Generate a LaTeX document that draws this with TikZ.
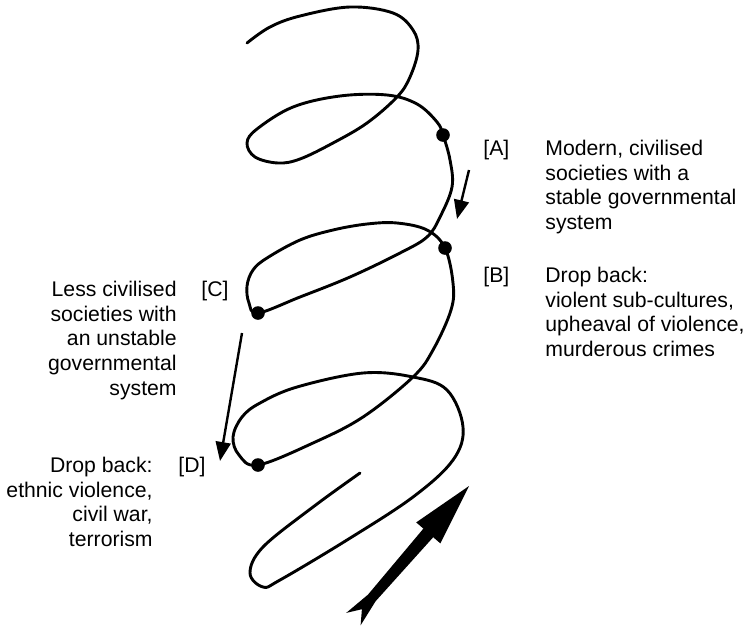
\documentclass[tikz,border=0pt]{standalone}
\usepackage{fontspec}
\setmainfont{Liberation Sans}
\usetikzlibrary{arrows.meta}
\tikzset{
  spiral/.style={line width=1.45pt, line cap=round, line join=round},
  spot/.style={circle, fill, inner sep=0pt, minimum size=6.8pt},
  tag/.style={anchor=base west, inner sep=0pt, font=\fontsize{10.6}{12.3}\selectfont},
  note/.style={inner sep=0pt, font=\fontsize{10.6}{12.3}\selectfont},
  drop/.style={line width=1.2pt, -{Triangle[length=9.5pt,width=7.5pt]}},
}
\begin{document}
\begin{tikzpicture}[x=0.5pt,y=-0.5pt]
    \useasboundingbox (0,0) rectangle (747,627);
    \draw[spiral] plot[smooth, tension=0.6] coordinates {
        (247,43) (270,27) (300,16) (350,7) (393,13) (413,30) (418,50) (410,77)
        (397,97) (367,123) (333,143) (300,159) (278,163) (255,157) (247,143)
        (257,129) (293,107) (340,96) (387,95) (417,104) (437,122) (443,135)
        (450,160) (452,187) (440,217) (427,237) (400,253) (350,277) (300,297)
        (258,313) (249,303) (247,286) (253,270) (267,258) (300,240) (333,230)
        (367,224) (397,223) (427,230) (445,248) (453,283) (451,310) (433,350)
        (413,377) (363,417) (313,443) (258,465) (239,455) (233,437) (242,417)
        (260,403) (297,387) (363,373) (413,377) (447,390) (463,427) (453,460)
        (413,497) (347,540) (280,580) (263,587) (250,573) (263,547) (313,507)
        (360,473)};
    \node[spot] (dotA) at (443,135) {};
    \node[spot] (dotB) at (445,248) {};
    \node[spot] (dotC) at (258,313) {};
    \node[spot] (dotD) at (258,465) {};
    \coordinate (ab1) at (469,170);
    \coordinate (ab2) at (457,219);
    \coordinate (cd1) at (242,333);
    \coordinate (cd2) at (220,461);
    \draw[drop] (ab1) -- (ab2);
    \draw[drop] (cd1) -- (cd2);
    \fill (469,486) -- (440.4,543.4) -- (433.2,537.2) -- (375.6,601.2) -- (360.6,625.3)
        -- (361.9,609.2) -- (346.2,612.9) -- (368.0,594.6) -- (423.4,528.6)
        -- (416.2,522.4) -- cycle;
    \node[tag] (labA) at (483,155) {[A]};
    \node[tag] (labB) at (483,282) {[B]};
    \node[tag] (labC) at (201,296) {[C]};
    \node[tag] (labD) at (178,472) {[D]};
    \node[note, anchor=north west, align=left] (txtA) at (545,140)
        {Modern, civilised\\societies with a\\stable governmental\\system};
    \node[note, anchor=north west, align=left] (txtB) at (545,267)
        {Drop back:\\violent sub-cultures,\\upheaval of violence,\\murderous crimes};
    \node[note, anchor=north east, align=right] (txtC) at (177,281)
        {Less civilised\\societies with\\an unstable\\governmental\\system};
    \node[note, anchor=north east, align=right] (txtD) at (153,457)
        {Drop back:\\ethnic violence,\\civil war,\\terrorism};
\end{tikzpicture}
\end{document}
